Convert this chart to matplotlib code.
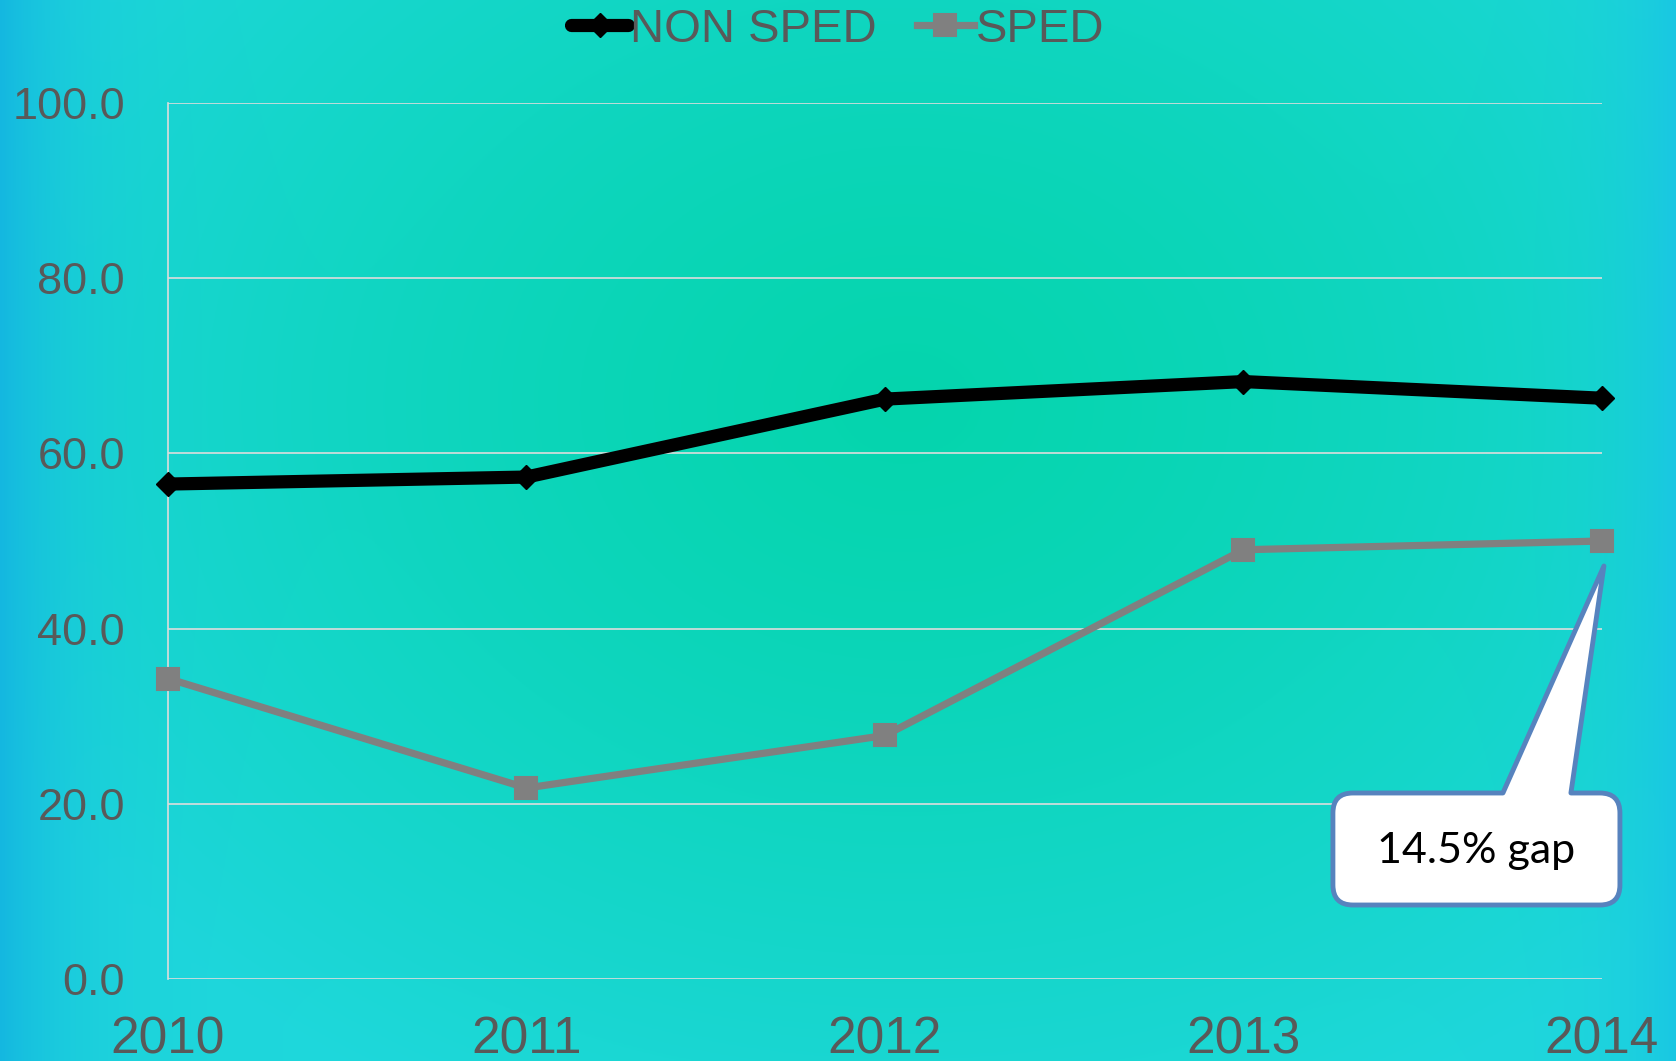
import numpy as np
import matplotlib
matplotlib.use("Agg")
import matplotlib.pyplot as plt
from matplotlib.path import Path
from matplotlib.patches import PathPatch
from matplotlib.transforms import IdentityTransform

# datos
years = ["2010", "2011", "2012", "2013", "2014"]
non_sped = [56.5, 57.3, 66.2, 68.2, 66.3]
sped = [34.3, 21.8, 27.8, 49.0, 50.0]
y_ticks = [0, 20, 40, 60, 80, 100]
callout_text = "14.5% gap"

plt.rcParams['font.family'] = ['Liberation Sans', 'DejaVu Sans']

fig = plt.figure(figsize=(16.76, 10.61), dpi=100)

# fondo degradado
bg = fig.add_axes([0, 0, 1, 1], zorder=-10)
h, w = 400, 640
yy, xx = np.mgrid[0:h, 0:w]
fx = xx / (w - 1)
fy = yy / (h - 1)
d = np.sqrt(((fx - 0.54) / 0.6) ** 2 + ((fy - 0.38) / 0.75) ** 2)
t = np.clip(d, 0, 1) ** 1.3
center = np.array([0.02, 0.835, 0.68])
edge = np.array([0.12, 0.845, 0.86])
img = center * (1 - t[..., None]) + edge * t[..., None]
blue_l = np.array([0.08, 0.72, 0.88])
blue_r = np.array([0.10, 0.78, 0.89])
kl = np.exp(-fx / 0.04)[..., None]
kr = np.exp(-(1 - fx) / 0.035)[..., None]
img = img * (1 - kl) + blue_l * kl
img = img * (1 - kr) + blue_r * kr
bg.imshow(img, aspect='auto', extent=[0, 1, 0, 1], origin='upper')
bg.axis('off')

ax = fig.add_axes([0.1002, 0.0773, 0.8556, 0.8256])
ax.set_facecolor('none')
x = np.arange(len(years))

ax.plot(x, non_sped, color='black', lw=9.5, marker='D', ms=12,
        solid_joinstyle='round', solid_capstyle='round',
        clip_on=False, zorder=4, label='NON SPED')
ax.plot(x, sped, color='#808080', lw=5.2, marker='s', ms=16,
        markeredgewidth=1.5, markeredgecolor='#808080',
        markerfacecolor='#808080', clip_on=False, zorder=3, label='SPED')

ax.set_xlim(0, len(years) - 1)
ax.set_ylim(0, 100)
ax.set_yticks(y_ticks)
ax.set_yticklabels([f"{v:.1f}" for v in y_ticks])
ax.set_xticks(x)
ax.set_xticklabels(years)
ax.grid(axis='y', color='#DDDDDD', lw=1.2)
ax.set_axisbelow(True)
for s in ['top', 'right', 'bottom']:
    ax.spines[s].set_visible(False)
ax.spines['left'].set_color('#DDDDDD')
ax.spines['left'].set_linewidth(1.2)
ax.tick_params(axis='y', length=0, pad=31, labelsize=32.5, labelcolor='#595959')
ax.tick_params(axis='x', length=0, pad=26, labelsize=37, labelcolor='#595959')

leg = fig.legend(loc='center', bbox_to_anchor=(0.5, 0.972), ncol=2,
                 frameon=False, fontsize=34, handlelength=1.2,
                 handletextpad=0.05, columnspacing=0.85, borderpad=0)
for t_ in leg.get_texts():
    t_.set_color('#595959')

# globo de texto
px, py = ax.transData.transform((x[-1], sped[-1]))
apex = (px + 2, py - 25)
x0, x1 = px - 269, px + 18
y0, y1 = py - 364, py - 252
b0, b1 = px - 99, px - 31
r = 20
verts = [
    (x0 + r, y1), (b0, y1), apex, (b1, y1), (x1 - r, y1),
    (x1, y1), (x1, y1 - r),
    (x1, y0 + r),
    (x1, y0), (x1 - r, y0),
    (x0 + r, y0),
    (x0, y0), (x0, y0 + r),
    (x0, y1 - r),
    (x0, y1), (x0 + r, y1),
    (x0 + r, y1),
]
codes = [Path.MOVETO, Path.LINETO, Path.LINETO, Path.LINETO, Path.LINETO,
         Path.CURVE3, Path.CURVE3,
         Path.LINETO,
         Path.CURVE3, Path.CURVE3,
         Path.LINETO,
         Path.CURVE3, Path.CURVE3,
         Path.LINETO,
         Path.CURVE3, Path.CURVE3,
         Path.CLOSEPOLY]
patch = PathPatch(Path(verts, codes), facecolor='white', edgecolor='#5783BE',
                  lw=3.5, transform=IdentityTransform(), clip_on=False,
                  zorder=6, joinstyle='round')
ax.add_patch(patch)
ax.annotate(callout_text, xy=(x[-1], sped[-1]), xytext=(-126, -310),
            textcoords='offset pixels', ha='center', va='center',
            fontsize=31, family=['Lato', 'DejaVu Sans'], color='black',
            zorder=7, annotation_clip=False)

fig.savefig('out.png', dpi=100)
